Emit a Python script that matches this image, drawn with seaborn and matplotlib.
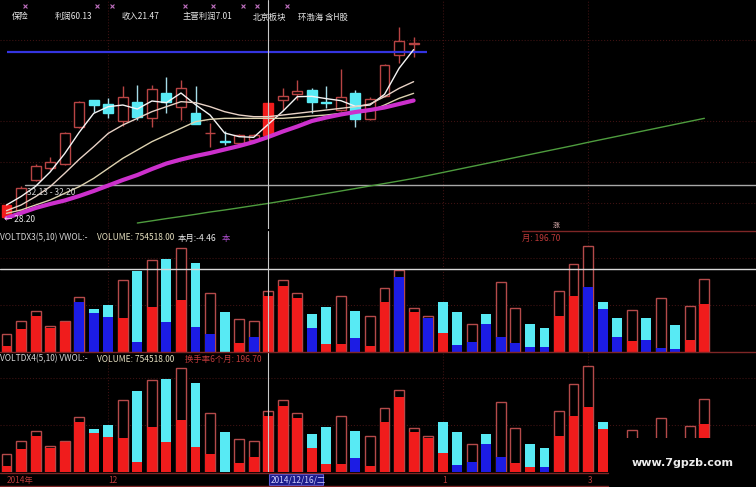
import numpy as np
import pandas as pd
import matplotlib
matplotlib.use("Agg")
import matplotlib.pyplot as plt
from matplotlib.patches import Rectangle
from matplotlib.lines import Line2D
import seaborn as sns

# ---------------- daily OHLC ----------------
opens  = [28.32, 29.16, 32.76, 34.20, 34.68, 39.12, 42.36, 41.88, 39.84, 42.12,
          40.20, 43.20, 41.52, 40.80, 38.36, 37.44, 37.20, 37.56, 38.16, 42.36,
          43.08, 43.56, 42.06, 41.16, 43.20, 40.08, 42.84, 47.76, 49.14]
highs  = [29.90, 32.04, 34.68, 35.52, 38.52, 42.24, 42.40, 42.60, 44.04, 44.16,
          44.16, 45.12, 44.76, 44.04, 39.60, 38.64, 38.28, 38.28, 42.00, 43.80,
          44.76, 43.80, 44.04, 46.08, 43.56, 42.72, 46.68, 51.12, 49.92]
lows   = [28.20, 28.92, 32.64, 33.96, 34.56, 39.00, 40.92, 40.20, 39.24, 39.96,
          39.12, 40.80, 39.96, 39.48, 36.72, 36.96, 37.08, 37.44, 38.10, 41.16,
          42.36, 40.80, 41.40, 41.10, 39.12, 40.00, 42.72, 46.80, 47.52]
closes = [29.76, 31.80, 34.44, 34.92, 38.40, 42.12, 41.76, 40.80, 42.72, 40.32,
          43.68, 42.12, 43.80, 39.48, 38.40, 37.32, 38.16, 38.16, 42.00, 42.84,
          43.44, 42.12, 42.00, 42.72, 40.08, 42.48, 46.56, 49.44, 49.20]
limit_up_days = [0, 18]

# moving-average curves
ma_mid  = [29.08, 29.76, 30.76, 31.96, 33.56, 35.24, 36.76, 38.36, 39.36, 40.16,
           40.96, 41.56, 42.16, 42.04, 41.56, 40.96, 40.56, 40.36, 40.36, 40.56,
           40.76, 40.96, 41.16, 41.36, 41.56, 41.88, 42.76, 43.76, 44.56]
ma_slow = [28.76, 29.16, 29.76, 30.36, 31.16, 31.96, 32.96, 34.16, 35.36, 36.36,
           37.36, 38.16, 38.96, 39.76, 40.04, 40.16, 40.16, 40.16, 40.16, 40.16,
           40.28, 40.44, 40.56, 40.76, 40.84, 41.04, 41.76, 42.56, 43.16]
ma_long = [28.20, 28.80, 29.40, 29.88, 30.30, 30.84, 31.44, 32.10, 32.76, 33.36,
           34.08, 34.74, 35.22, 35.64, 36.00, 36.42, 36.84, 37.32, 37.92, 38.58,
           39.18, 39.84, 40.26, 40.62, 40.92, 41.16, 41.46, 41.88, 42.30]
ma_year_start = 9
ma_year = [27.60, 27.86, 28.13, 28.38, 28.64, 28.92, 29.16, 29.42, 29.69, 29.95,
           30.24, 30.54, 30.84, 31.14, 31.44, 31.74, 32.04, 32.34, 32.64, 32.95,
           33.30, 33.66, 34.02, 34.38, 34.74, 35.10, 35.46, 35.82, 36.18, 36.54,
           36.90, 37.28, 37.64, 38.00, 38.36, 38.72, 39.08, 39.44, 39.80, 40.16]
pressure_line = 48.12
cursor_price = 32.16
cursor_day = 18

# ---------------- volume (10k lots) ----------------
vol_total = [21.9, 38.7, 50.7, 32.2, 38.7, 67.7, 52.8, 58.1, 89.1, 100.6,
             113.8, 115.0, 128.3, 109.7, 72.6, 49.1, 40.8, 38.3, 75.5, 89.1,
             72.6, 46.6, 56.0, 69.3, 51.1, 44.5, 78.8, 101.4, 54.8, 44.9,
             61.5, 49.9, 34.6, 47.4, 86.6, 54.1, 35.0, 30.1, 75.5, 109.2,
             130.7, 61.5, 41.7, 52.0, 41.7, 66.4, 33.4, 56.9, 90.3]
vol_lower = [7.4, 28.5, 44.9, 30.1, 36.7, 61.5, 47.9, 42.9, 41.7, 12.0,
             56.0, 37.5, 64.3, 30.6, 21.9, 0.0, 10.8, 18.9, 69.3, 81.6,
             66.4, 29.3, 9.9, 9.5, 17.7, 7.4, 61.5, 93.1, 49.1, 42.4,
             23.1, 8.7, 12.7, 34.3, 18.2, 10.8, 6.6, 6.6, 44.5, 69.6,
             80.4, 52.8, 18.9, 13.6, 14.8, 4.6, 3.7, 14.8, 59.0]
cyan_bars = [6, 7, 9, 11, 13, 15, 21, 22, 24, 30, 31, 33, 36, 37, 41, 42, 44, 46]
blue_low_3 = [5, 6, 7, 9, 11, 13, 14, 17, 21, 24, 27, 29, 31, 32, 33, 34, 35,
              36, 37, 40, 41, 42, 44, 45, 46]
blue_low_4 = [24, 31, 32, 33, 34, 37]
vol_cursor = 102.7

month_ticks = [0, 7, 30, 40]
month_labels = ["2014年", "12", "1", "3"]
cursor_date = "2014/12/16/二"

# ---------------- style ----------------
sns.set_theme(style="dark", rc={"axes.facecolor": "black",
                                "figure.facecolor": "black"})
plt.rcParams['font.family'] = ['Noto Sans CJK SC', 'DejaVu Sans']

RED_LINE = '#b84444'
RED_FILL = '#f01c1c'
CYAN = '#58eaf4'
CYAN_WICK = '#a6dce8'
BLUE = '#1c1ce4'
OUTLINE = '#b44a4a'
GRID = '#3c1212'
DARKRED = '#7e2626'

W, H = 756, 487
fig = plt.figure(figsize=(W / 100, H / 100), dpi=100)
XLIM = (-0.447, 51.55)


def band(top, bottom):
    ax = fig.add_axes([0, 1 - bottom / H, 1, (bottom - top) / H])
    ax.set_facecolor('black')
    ax.set_xlim(*XLIM)
    ax.set_xticks([]); ax.set_yticks([])
    for s in ax.spines.values():
        s.set_visible(False)
    return ax


def ftext(x, y, s, **kw):
    kw.setdefault('fontsize', 6)
    kw.setdefault('va', 'center')
    kw.setdefault('ha', 'left')
    fig.text(x / W, 1 - y / H, s, **kw)


# ---------------- price panel ----------------
axp = band(0, 229)
axp.set_ylim(26.88, 54.36)
for gy in [49.56, 39.84, 34.92, 30.00]:
    axp.axhline(gy, color=GRID, lw=0.8, ls=':', zorder=0)
for t in month_ticks[1:]:
    axp.axvline(t, color=GRID, lw=0.8, ls=':', zorder=0)

n = len(closes)
xs = np.arange(n)
BW = 0.68
for i in xs:
    o, h, l, c = opens[i], highs[i], lows[i], closes[i]
    if i in limit_up_days:
        fc, ec, wc = RED_FILL, RED_FILL, RED_FILL
    elif c >= o:
        fc, ec, wc = 'black', RED_LINE, RED_LINE
    else:
        fc, ec, wc = CYAN, CYAN, CYAN_WICK
    axp.vlines(i, l, h, color=wc, lw=1, zorder=2)
    axp.bar(i, max(abs(c - o), 0.02), bottom=min(o, c), width=BW,
            facecolor=fc, edgecolor=ec, linewidth=1, zorder=3)

axp.hlines(pressure_line, 0.03, 28.92, color='#3434e0', lw=1.6, zorder=4)
axp.axhline(cursor_price, xmin=(1.27 - XLIM[0]) / (XLIM[1] - XLIM[0]),
            color='#a8a8a8', lw=1, zorder=1)

ma3 = pd.Series(closes).rolling(3, min_periods=1).mean()
sns.lineplot(x=xs, y=ma3.values, ax=axp, color='#f4f4f4', lw=1, zorder=5, legend=False)
sns.lineplot(x=xs, y=ma_mid, ax=axp, color='#e8d2c6', lw=1, zorder=5, legend=False)
sns.lineplot(x=xs, y=ma_slow, ax=axp, color='#ddd2b0', lw=1, zorder=5, legend=False)
sns.lineplot(x=xs, y=ma_long, ax=axp, color='#cc30cc', lw=3, zorder=5, legend=False)
sns.lineplot(x=np.arange(ma_year_start, ma_year_start + len(ma_year)), y=ma_year,
             ax=axp, color='#4e9c3e', lw=1, zorder=5, legend=False)
axp.axvline(cursor_day, color='#c8c8c8', lw=0.8, zorder=6)
axp.set_xlim(*XLIM); axp.set_ylim(26.88, 54.36)
axp.set_xlabel(''); axp.set_ylabel('')

# info markers along the top
axp.scatter([1.27, 6.22, 7.26, 12.28, 14.2, 16.27, 17.23, 19.29], [53.64] * 8,
            marker='x', s=8, color='#c070c0', linewidths=0.8, zorder=7)

ftext(12, 17, "保险", color='#e8e8e8')
ftext(55, 17, "利润60.13", color='#e8e8e8')
ftext(122, 17, "收入21.47", color='#e8e8e8')
ftext(183, 17, "主营利润7.01", color='#e8e8e8')
ftext(253, 17, "北京板块", color='#e8e8e8')
ftext(298, 17, "环渤海 含H股", color='#e8e8e8')
ftext(27, 192, "32.13 - 32.20", color='#d0d0d0')
ftext(4, 219, "← 28.20", color='#e8e8e8')


# ---------------- volume panels ----------------
def draw_volume(ax, blue_low):
    ax.set_ylim(0, ax.get_position().height * H * 1.237)
    for gy in [58.1, 116.3]:
        ax.axhline(gy, color=GRID, lw=0.8, ls=':', zorder=0)
    for t in month_ticks[1:]:
        ax.axvline(t, color=GRID, lw=0.8, ls=':', zorder=0)
    for i in range(len(vol_total)):
        if i in cyan_bars:
            ax.bar(i, vol_total[i], width=BW, color=CYAN, linewidth=0, zorder=2)
        else:
            ax.bar(i, vol_total[i], width=BW, facecolor='black',
                   edgecolor=OUTLINE, linewidth=1, zorder=2)
        if vol_lower[i] > 0:
            ax.bar(i, vol_lower[i], width=BW,
                   color=BLUE if i in blue_low else RED_FILL,
                   linewidth=0, zorder=3)
    ax.axvline(cursor_day, color='#c8c8c8', lw=0.8, zorder=6)


axv1 = band(231, 352)
draw_volume(axv1, blue_low_3)
axv1.axhline(vol_cursor, color='#d8d8d8', lw=1, zorder=5)

axv2 = band(352, 472)
draw_volume(axv2, blue_low_4)

fig.add_artist(Line2D([0, 1], [1 - 352 / H] * 2, color=DARKRED, lw=1, zorder=8))
fig.add_artist(Line2D([522 / W, 1], [1 - 231 / H] * 2, color=DARKRED, lw=1, zorder=8))

ftext(0, 238, "VOLTDX3(5,10) VWOL:-", color='#d8d8d8')
ftext(97, 238, "VOLUME: 754518.00", color='#e6e0c0')
ftext(178, 238, "本月:-4.46", color='#ececec')
ftext(222, 238, "本", color='#b050d0')
ftext(522, 238, "月: 196.70", color='#c03a3a')
ftext(553, 226, "涨", color='#e8b8b8', fontsize=5)

ftext(0, 359, "VOLTDX4(5,10) VWOL:-", color='#d8d8d8')
ftext(97, 359, "VOLUME: 754518.00", color='#e6e0c0')
ftext(185, 359, "换手率6个月: 196.70", color='#c03a3a')

# ---------------- date strip ----------------
axd = band(472, 487)
axd.set_ylim(0, 1)
for t, lab in zip(month_ticks, month_labels):
    axd.text(t, 0.45, lab, color='#b83a3a', fontsize=6, va='center', ha='left')
px2i = lambda p: (p - 6.5) / 14.54
axd.add_patch(Rectangle((px2i(269), 0.12), px2i(323) - px2i(269), 0.76,
                        facecolor='#1c1c8c', edgecolor='#5a5ad8', lw=0.8, zorder=3))
axd.text(px2i(271), 0.48, cursor_date, color='#d0d0ff', fontsize=6,
         va='center', ha='left', zorder=4)
fig.add_artist(Line2D([0, 608 / W], [1 - 473 / H] * 2, color=DARKRED, lw=1, zorder=8))
fig.add_artist(Line2D([0, 608 / W], [1 - 486 / H] * 2, color=DARKRED, lw=1, zorder=8))

# watermark block
fig.add_artist(Rectangle((610 / W, 0), (W - 610) / W, (H - 438) / H,
                         transform=fig.transFigure, facecolor='black',
                         edgecolor='none', zorder=10))
fig.text(683 / W, 1 - 463 / H, "www.7gpzb.com", color='#ececec', fontsize=8,
         fontweight='bold', family='DejaVu Sans', ha='center', va='center', zorder=11)

fig.savefig("out.png", dpi=100, facecolor='black')
